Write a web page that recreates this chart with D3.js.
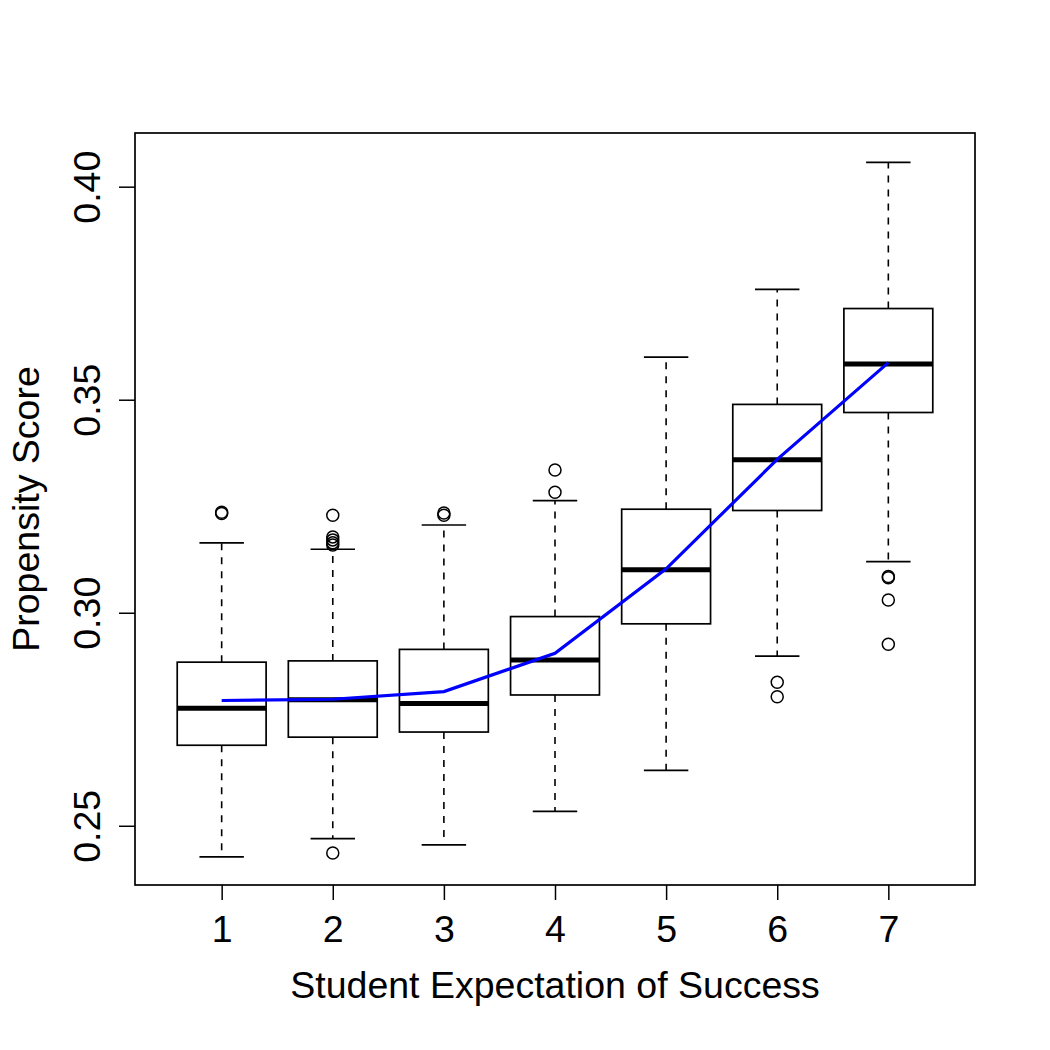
<!DOCTYPE html>
<html>
<head>
<meta charset="utf-8">
<script src="https://cdn.jsdelivr.net/npm/d3@7"></script>
<style>
  html, body { margin: 0; padding: 0; background: #fff; }
  svg { display: block; }
  text { font-family: "Liberation Sans", Arial, Helvetica, sans-serif; fill: #000; }
</style>
</head>
<body>
<svg id="chart" width="1050" height="1050"></svg>
<script>
// ---- Data ----
const categories   = [1, 2, 3, 4, 5, 6, 7];
const whiskerLow   = [0.2427, 0.2470, 0.2455, 0.2534, 0.2630, 0.2898, 0.3120];
const q1           = [0.2689, 0.2708, 0.2720, 0.2807, 0.2974, 0.3240, 0.3470];
const medians      = [0.2776, 0.2796, 0.2787, 0.2889, 0.3101, 0.3359, 0.3584];
const q3           = [0.2884, 0.2887, 0.2914, 0.2991, 0.3243, 0.3489, 0.3714];
const whiskerHigh  = [0.3164, 0.3149, 0.3206, 0.3263, 0.3600, 0.3759, 0.4057];
const outliers     = [
  [0.3236, 0.3233],
  [0.3229, 0.3178, 0.3171, 0.3164, 0.3159, 0.2436],
  [0.3234, 0.3229],
  [0.3335, 0.3283],
  [],
  [0.2837, 0.2803],
  [0.3085, 0.3082, 0.3030, 0.2926]
];
const meanLine     = [0.2794, 0.2797, 0.2815, 0.2905, 0.3103, 0.3360, 0.3587];
const yTicks       = [0.25, 0.30, 0.35, 0.40];
const xLabel = "Student Expectation of Success";
const yLabel = "Propensity Score";

// ---- Layout ----
const plot = { left: 135, right: 975, top: 133, bottom: 885 };
const svg = d3.select("#chart");

const x = d3.scaleLinear().domain([0.22, 7.78]).range([plot.left, plot.right]);
const y = d3.scaleLinear().domain([0.2361, 0.4126]).range([plot.bottom, plot.top]);

const boxHalf = (x(1.4) - x(1));   // box width 0.8
const capHalf = (x(1.2) - x(1));   // whisker cap width 0.4

const groups = svg.append("g").selectAll("g.box")
  .data(categories.map((c, i) => ({ c, i })))
  .join("g").attr("class", "box");

// whiskers (dashed)
groups.append("line")
  .attr("x1", d => x(d.c)).attr("x2", d => x(d.c))
  .attr("y1", d => y(q3[d.i])).attr("y2", d => y(whiskerHigh[d.i]))
  .attr("stroke", "#000").attr("stroke-width", 1.6).attr("stroke-dasharray", "7,7");
groups.append("line")
  .attr("x1", d => x(d.c)).attr("x2", d => x(d.c))
  .attr("y1", d => y(q1[d.i])).attr("y2", d => y(whiskerLow[d.i]))
  .attr("stroke", "#000").attr("stroke-width", 1.6).attr("stroke-dasharray", "7,7");
// caps
groups.append("line")
  .attr("x1", d => x(d.c) - capHalf).attr("x2", d => x(d.c) + capHalf)
  .attr("y1", d => y(whiskerHigh[d.i])).attr("y2", d => y(whiskerHigh[d.i]))
  .attr("stroke", "#000").attr("stroke-width", 1.7);
groups.append("line")
  .attr("x1", d => x(d.c) - capHalf).attr("x2", d => x(d.c) + capHalf)
  .attr("y1", d => y(whiskerLow[d.i])).attr("y2", d => y(whiskerLow[d.i]))
  .attr("stroke", "#000").attr("stroke-width", 1.7);
// box
groups.append("rect")
  .attr("x", d => x(d.c) - boxHalf)
  .attr("width", 2 * boxHalf)
  .attr("y", d => y(q3[d.i]))
  .attr("height", d => y(q1[d.i]) - y(q3[d.i]))
  .attr("fill", "#fff").attr("stroke", "#000").attr("stroke-width", 1.7);
// median
groups.append("line")
  .attr("x1", d => x(d.c) - boxHalf).attr("x2", d => x(d.c) + boxHalf)
  .attr("y1", d => y(medians[d.i])).attr("y2", d => y(medians[d.i]))
  .attr("stroke", "#000").attr("stroke-width", 5);
// outliers
groups.selectAll("circle")
  .data(d => outliers[d.i].map(v => ({ c: d.c, v })))
  .join("circle")
  .attr("cx", d => x(d.c)).attr("cy", d => y(d.v)).attr("r", 6)
  .attr("fill", "none").attr("stroke", "#000").attr("stroke-width", 1.5);

// blue line
svg.append("path")
  .datum(categories.map((c, i) => [c, meanLine[i]]))
  .attr("d", d3.line().x(d => x(d[0])).y(d => y(d[1])))
  .attr("fill", "none").attr("stroke", "#0000ff").attr("stroke-width", 3.2);

// frame
svg.append("rect")
  .attr("x", plot.left).attr("y", plot.top)
  .attr("width", plot.right - plot.left).attr("height", plot.bottom - plot.top)
  .attr("fill", "none").attr("stroke", "#000").attr("stroke-width", 1.7);

// x axis
const xAxis = svg.append("g")
  .attr("transform", `translate(0,${plot.bottom})`)
  .call(d3.axisBottom(x).tickValues(categories).tickSize(15).tickFormat(d3.format("d")));
xAxis.select(".domain").remove();
xAxis.selectAll(".tick line").attr("stroke", "#000").attr("stroke-width", 1.5);
xAxis.selectAll(".tick text")
  .attr("y", 57).attr("dy", null)
  .style("font-size", "37.5px").style("font-family", '"Liberation Sans", Arial, sans-serif');

// y axis
const yAxis = svg.append("g")
  .attr("transform", `translate(${plot.left},0)`)
  .call(d3.axisLeft(y).tickValues(yTicks).tickSize(16).tickFormat(d3.format(".2f")));
yAxis.select(".domain").remove();
yAxis.selectAll(".tick line").attr("stroke", "#000").attr("stroke-width", 1.5);
yAxis.selectAll(".tick text")
  .attr("x", null).attr("dy", null)
  .attr("transform", "translate(-35,0) rotate(-90)")
  .attr("text-anchor", "middle")
  .style("font-size", "37.5px").style("font-family", '"Liberation Sans", Arial, sans-serif');

// axis titles
svg.append("text")
  .attr("x", (plot.left + plot.right) / 2).attr("y", 998)
  .attr("text-anchor", "middle").style("font-size", "37.5px")
  .text(xLabel);
svg.append("text")
  .attr("transform", `translate(39,${(plot.top + plot.bottom) / 2}) rotate(-90)`)
  .attr("text-anchor", "middle").style("font-size", "37.5px")
  .text(yLabel);
</script>
</body>
</html>
